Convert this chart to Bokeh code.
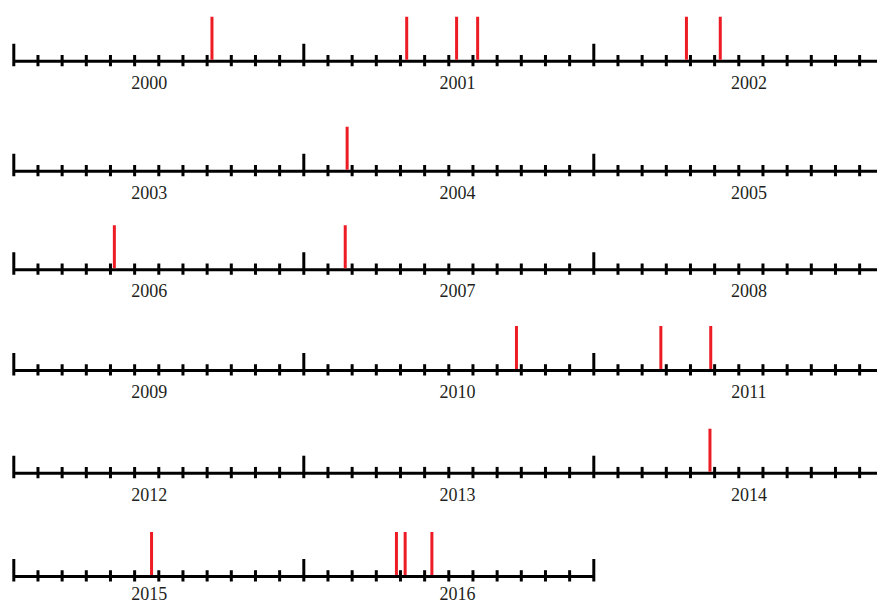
from datetime import date
import calendar
from bokeh.plotting import figure
from bokeh.models import Range1d
from bokeh.core.properties import value
from bokeh.embed import file_html
from bokeh.resources import INLINE

# ---------------- data ----------------
years = list(range(2000, 2017))
year_labels = [str(y) for y in years]
event_dates = [
    "2000-09-07",
    "2001-05-09", "2001-07-11", "2001-08-07",
    "2002-04-26", "2002-06-08",
    "2004-02-24",
    "2006-05-06",
    "2007-02-21",
    "2010-09-25",
    "2011-03-25", "2011-05-27",
    "2014-05-26",
    "2015-06-22",
    "2016-04-26", "2016-05-07", "2016-06-10",
]

# ---------------- layout ----------------
PER_ROW = 3
ROW_Y = [60.7, 170.7, 269.3, 370.0, 472.7, 576.0]   # baseline of each row (px from top)
LABEL_SHIFT = [-0.033, 0.03, 0.035]                 # label offset by column
W, H = 877, 604
PX_PER_YEAR = 290.0
X0 = 13.3  # x of the first year start

def pos(y):
    i = y - years[0]
    return i // PER_ROW, i % PER_ROW

def frac(d):
    dt = date.fromisoformat(d)
    ndays = calendar.monthrange(dt.year, dt.month)[1]
    return (dt.month - 1 + (dt.day - 1) / ndays) / 12.0

p = figure(width=W, height=H, output_backend="svg", toolbar_location=None,
           x_range=Range1d(-X0 / PX_PER_YEAR, (W - X0) / PX_PER_YEAR),
           y_range=Range1d(H, 0),
           x_axis_location=None, y_axis_location=None, min_border=0)
p.outline_line_color = None
p.xgrid.visible = False
p.ygrid.visible = False
p.background_fill_color = "white"
p.border_fill_color = "white"

# baselines
n_rows = (len(years) + PER_ROW - 1) // PER_ROW
bx0, bx1, by = [], [], []
for r in range(n_rows):
    cnt = min(PER_ROW, len(years) - r * PER_ROW)
    bx0.append(0)
    bx1.append(3.2 if cnt == PER_ROW else cnt)
    by.append(ROW_Y[r])
p.segment(x0=bx0, y0=by, x1=bx1, y1=by, line_color="black", line_width=3)

# ticks
tx, ty0, ty1 = [], [], []          # tall (year starts)
sx, sy0, sy1 = [], [], []          # small (months)
for y in years:
    r, c = pos(y)
    base = ROW_Y[r]
    tx.append(c); ty0.append(base - 17.5); ty1.append(base + 5)
    for k in range(1, 12):
        sx.append(c + k / 12); sy0.append(base - 6.3); sy1.append(base + 5)
r, c = pos(years[-1])
tx.append(c + 1); ty0.append(ROW_Y[r] - 17.5); ty1.append(ROW_Y[r] + 5)
p.segment(x0=tx, y0=ty0, x1=tx, y1=ty1, line_color="black", line_width=3)
p.segment(x0=sx, y0=sy0, x1=sx, y1=sy1, line_color="black", line_width=3)

# events
ex, ey0, ey1 = [], [], []
for d in event_dates:
    yr = int(d[:4])
    r, c = pos(yr)
    ex.append(c + frac(d)); ey0.append(ROW_Y[r] - 44.5); ey1.append(ROW_Y[r] - 1.5)
p.segment(x0=ex, y0=ey0, x1=ex, y1=ey1, line_color="#ED1C24", line_width=3)

# labels
lx, ly = [], []
for y in years:
    r, c = pos(y)
    lx.append(c + 0.5 + LABEL_SHIFT[c])
    ly.append(min(ROW_Y[r] + 21, H - 11.5))
p.text(x=lx, y=ly, text=year_labels, text_font=value("Liberation Serif"),
       text_font_size="18px", text_align="center", text_baseline="middle",
       text_color="#231f20")

open("out.html", "w").write(file_html(p, INLINE))
